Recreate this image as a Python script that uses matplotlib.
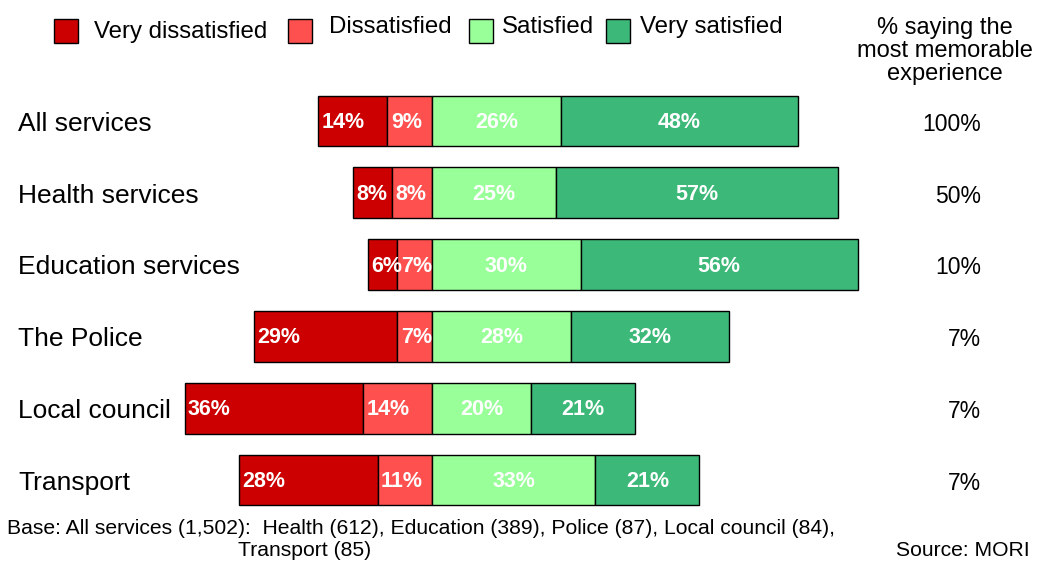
import matplotlib.pyplot as plt
import matplotlib.transforms as mtransforms
from matplotlib.patches import Rectangle
import numpy as np

plt.rcParams['font.family'] = ['Liberation Sans', 'DejaVu Sans']

# data
services = ["All services", "Health services", "Education services",
            "The Police", "Local council", "Transport"]
very_dissatisfied = [14, 8, 6, 29, 36, 28]
dissatisfied = [9, 8, 7, 7, 14, 11]
satisfied = [26, 25, 30, 28, 20, 33]
very_satisfied = [48, 57, 56, 32, 21, 21]
memorable = ["100%", "50%", "10%", "7%", "7%", "7%"]
legend_labels = ["Very dissatisfied", "Dissatisfied", "Satisfied", "Very satisfied"]
colors = ["#CC0000", "#FF5050", "#99FF99", "#3CB878"]

W, H = 1037, 562
fig = plt.figure(figsize=(W / 100, H / 100), dpi=100)
ax = fig.add_axes([0, 0, 1, 1])
ax.set_xlim(-432 / 4.95, (W - 432) / 4.95)
ax.set_ylim((H - 121) / 71.8, -121 / 71.8)
ax.axis("off")

y = np.arange(len(services))
vd = np.array(very_dissatisfied)
d = np.array(dissatisfied)
s = np.array(satisfied)
vs = np.array(very_satisfied)

segments = [(-(vd + d), vd, colors[0], "left"),
            (-d, d, colors[1], "left"),
            (np.zeros(len(s)), s, colors[2], "center"),
            (s, vs, colors[3], "center")]

bh = 0.71
for left, width, c, align in segments:
    ax.barh(y, width, left=left, height=bh, color=c, edgecolor="black", linewidth=1)
    for yi, l, w in zip(y, left, width):
        if align == "left":
            xt, ha = l + 0.7, "left"
        else:
            xt, ha = l + w / 2, "center"
        ax.text(xt, yi + 0.02, f"{w}%", ha=ha, va="center", color="white",
                fontsize=15.5, fontweight="bold")

# category labels and right column
bt = mtransforms.blended_transform_factory(ax.transAxes, ax.transData)
for yi, name, m in zip(y, services, memorable):
    ax.text(18 / W, yi + 0.04, name, transform=bt, ha="left", va="center", fontsize=19)
    ax.text(981 / W, yi + 0.045, m, transform=bt, ha="right", va="center", fontsize=16.5)

fig.text(945 / W, 1 - 51 / H, "% saying the\nmost memorable\nexperience",
         ha="center", va="center", fontsize=17, linespacing=1.07)

# legend
leg_pos = [(54, 94, 32), (288, 329, 27), (469, 502, 27), (606, 640, 27)]
for (px, tx, ty), lab, c in zip(leg_pos, legend_labels, colors):
    fig.patches.append(Rectangle((px / W, 1 - 43 / H), 24 / W, 24 / H,
                                 transform=fig.transFigure, facecolor=c,
                                 edgecolor="black", linewidth=1))
    fig.text(tx / W, 1 - ty / H, lab, ha="left", va="center", fontsize=17.3)

# footnotes
fig.text(7 / W, 1 - 528 / H,
         "Base: All services (1,502):  Health (612), Education (389), Police (87), Local council (84),",
         ha="left", va="center", fontsize=15.2)
fig.text(238 / W, 1 - 551 / H, "Transport (85)", ha="left", va="center", fontsize=15.2)
fig.text(1030 / W, 1 - 551 / H, "Source: MORI", ha="right", va="center", fontsize=15.2)

fig.savefig("out.png", dpi=100)
